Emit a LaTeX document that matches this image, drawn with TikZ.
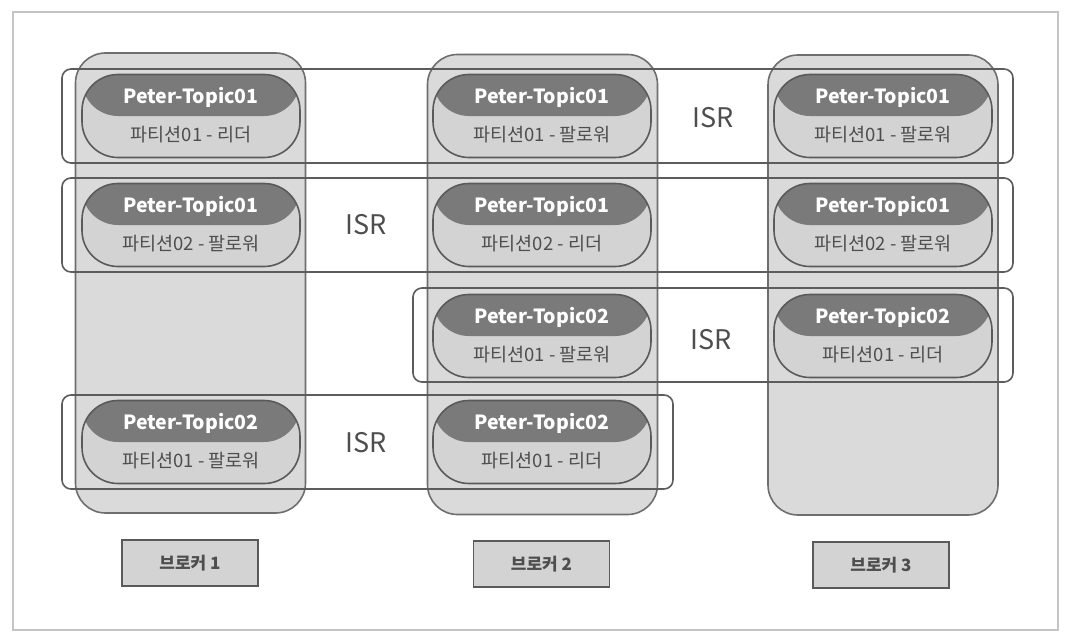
\documentclass[tikz,border=0pt]{standalone}
\usepackage{fontspec}
\setmainfont{Noto Sans CJK KR}
\newfontfamily\kr{Noto Sans CJK KR}
\definecolor{brokerfill}{HTML}{DADADA}
\definecolor{brokerline}{HTML}{6E6E6E}
\definecolor{topdark}{HTML}{7A7A7A}
\definecolor{botlight}{HTML}{D3D3D3}
\definecolor{nodeline}{HTML}{5A5A5A}
\definecolor{frameline}{HTML}{5C5C5C}
\definecolor{txtgray}{HTML}{4E4E4E}
\definecolor{outerline}{HTML}{C4C4C4}
\tikzset{
  x=1pt, y=-1pt,
  brokerbox/.style={draw=brokerline, line width=1.6pt, fill=brokerfill, rounded corners=30pt,
    minimum width=230pt, minimum height=460pt, inner sep=0pt},
  partbox/.style={draw=nodeline, line width=1.6pt, fill=botlight, rounded corners=36pt,
    minimum width=218pt, minimum height=83pt, inner sep=0pt,
    path picture={\fill[topdark] (path picture bounding box.north west) rectangle (path picture bounding box.east);}},
  toptext/.style={text=white, font=\kr\bfseries\fontsize{19.5}{22}\selectfont, inner sep=0pt},
  bottext/.style={text=txtgray, font=\kr\fontsize{18.5}{21}\selectfont, inner sep=0pt},
  isrframe/.style={draw=frameline, line width=1.6pt, rounded corners=9pt, inner sep=0pt},
  isrtext/.style={text=txtgray, font=\kr\fontsize{27}{30}\selectfont, inner sep=0pt},
  brokerlabel/.style={draw=nodeline, line width=1.6pt, fill=botlight, minimum width=136pt,
    minimum height=46pt, inner sep=0pt, text=txtgray, font=\kr\bfseries\fontsize{17}{19}\selectfont},
}
\begin{document}
\begin{tikzpicture}
\useasboundingbox (0,0) rectangle (1068,642);
\fill[white] (0,0) rectangle (1068,642);
\node[draw=outerline, line width=2pt, minimum width=1045pt, minimum height=618pt, inner sep=0pt] (outer) at (535.5,321) {};

% brokers
\node[brokerbox] (b1) at (190.5,283) {};
\node[brokerbox] (b2) at (542.5,284.5) {};
\node[brokerbox] (b3) at (883,285) {};

% ISR frames
\node[isrframe, minimum width=951pt, minimum height=94pt] (f1) at (537.5,116) {};
\node[isrframe, minimum width=951pt, minimum height=94pt] (f2) at (537.5,225) {};
\node[isrframe, minimum width=600pt, minimum height=94pt] (f3) at (713,335) {};
\node[isrframe, minimum width=611pt, minimum height=94pt] (f4) at (367.5,442) {};

% partitions
\foreach \nm/\cx/\cy/\top/\bot in {
  p11/191/116/Peter-Topic01/파티션01 - 리더,
  p12/191/225/Peter-Topic01/파티션02 - 팔로워,
  p14/191/442/Peter-Topic02/파티션01 - 팔로워,
  p21/542/116/Peter-Topic01/파티션01 - 팔로워,
  p22/542/225/Peter-Topic01/파티션02 - 리더,
  p23/542/336/Peter-Topic02/파티션01 - 팔로워,
  p24/542/442/Peter-Topic02/파티션01 - 리더,
  p31/883/116/Peter-Topic01/파티션01 - 팔로워,
  p32/883/225/Peter-Topic01/파티션02 - 팔로워,
  p33/883/336/Peter-Topic02/파티션01 - 리더}{
  \node[partbox] (\nm) at (\cx,\cy) {};
  \node[toptext] (\nm t) at ([yshift=19pt]\nm.center) {\top};
  \node[bottext] (\nm b) at ([yshift=-19pt]\nm.center) {\bot};
}

% ISR labels
\node[isrtext] (i1) at (713,118) {ISR};
\node[isrtext] (i2) at (366,225) {ISR};
\node[isrtext] (i3) at (711,340) {ISR};
\node[isrtext] (i4) at (366,443) {ISR};

% broker labels
\node[brokerlabel] (l1) at (190,563) {브로커 1};
\node[brokerlabel] (l2) at (541.5,564) {브로커 2};
\node[brokerlabel] (l3) at (881,565) {브로커 3};
\end{tikzpicture}
\end{document}
